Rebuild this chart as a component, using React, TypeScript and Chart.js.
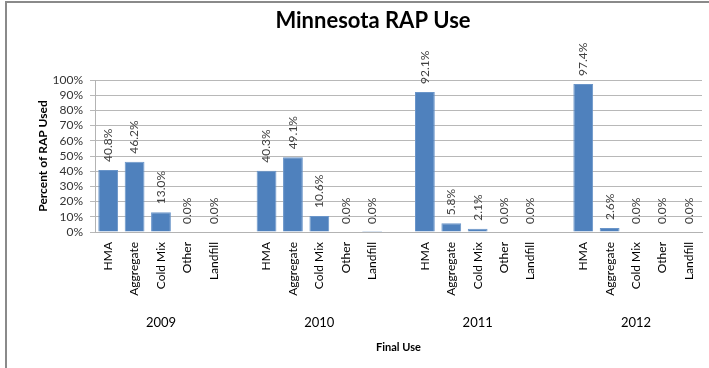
import React, { useEffect, useRef } from "react";
import { Chart, registerables } from "chart.js";

Chart.register(...registerables);

const TITLE = "Minnesota RAP Use";
const Y_TITLE = "Percent of RAP Used";
const X_TITLE = "Final Use";
const YEARS = ["2009", "2010", "2011", "2012"];
const USES = ["HMA", "Aggregate", "Cold Mix", "Other", "Landfill"];
const VALUES_2009 = [40.8, 46.2, 13.0, 0.0, 0.0];
const VALUES_2010 = [40.3, 49.1, 10.6, 0.0, 0.04];
const VALUES_2011 = [92.1, 5.8, 2.1, 0.0, 0.0];
const VALUES_2012 = [97.4, 2.6, 0.0, 0.0, 0.0];

const FONT = "Lato, 'Liberation Sans', sans-serif";

export default function App() {
  const ref = useRef<HTMLCanvasElement>(null);

  useEffect(() => {
    const groups = [VALUES_2009, VALUES_2010, VALUES_2011, VALUES_2012];
    const labels: string[] = [];
    const data: (number | null)[] = [];
    const yearOfIndex: number[] = [];
    groups.forEach((g, gi) => {
      if (gi > 0) {
        labels.push("");
        data.push(null);
        yearOfIndex.push(-1);
      }
      g.forEach((v, i) => {
        labels.push(USES[i]);
        data.push(v);
        yearOfIndex.push(gi);
      });
    });

    const decor = {
      id: "decor",
      beforeDraw(chart: any) {
        const ctx = chart.ctx;
        ctx.save();
        ctx.strokeStyle = "#8a8a8a";
        ctx.lineWidth = 2;
        ctx.beginPath();
        ctx.moveTo(6, 368);
        ctx.lineTo(6, 2);
        ctx.lineTo(709, 2);
        ctx.stroke();
        ctx.restore();
      },
      afterDraw(chart: any) {
        const ctx = chart.ctx;
        const xs = chart.scales.x;
        const ys = chart.scales.y;
        const area = chart.chartArea;
        ctx.save();
        // Title
        ctx.fillStyle = "#000";
        ctx.font = `bold 22px ${FONT}`;
        ctx.textAlign = "center";
        ctx.textBaseline = "middle";
        ctx.fillText(TITLE, 373, 21);
        // Y title
        ctx.save();
        ctx.translate(43, (area.top + area.bottom) / 2);
        ctx.rotate(-Math.PI / 2);
        ctx.font = `bold 12px ${FONT}`;
        ctx.fillText(Y_TITLE, 0, 0);
        ctx.restore();
        // data labels + category labels
        data.forEach((v, i) => {
          if (v === null) return;
          const x = xs.getPixelForValue(i);
          const yTop = ys.getPixelForValue(v);
          ctx.save();
          ctx.translate(x, yTop - 8);
          ctx.rotate(-Math.PI / 2);
          ctx.font = `12px ${FONT}`;
          ctx.fillStyle = "#404040";
          ctx.textAlign = "left";
          ctx.textBaseline = "middle";
          ctx.fillText(v.toFixed(1) + "%", 0, 0);
          ctx.restore();

          ctx.save();
          ctx.translate(x, area.bottom + 10);
          ctx.rotate(-Math.PI / 2);
          ctx.font = `12px ${FONT}`;
          ctx.fillStyle = "#000";
          ctx.textAlign = "right";
          ctx.textBaseline = "middle";
          ctx.fillText(labels[i], 0, 0);
          ctx.restore();
        });
        // year labels
        ctx.font = `13px ${FONT}`;
        ctx.fillStyle = "#000";
        ctx.textAlign = "center";
        ctx.textBaseline = "middle";
        YEARS.forEach((yr, gi) => {
          const idx = yearOfIndex.indexOf(gi);
          const x = (xs.getPixelForValue(idx) + xs.getPixelForValue(idx + 4)) / 2;
          ctx.fillText(yr, x, 323);
        });
        ctx.font = `bold 11px ${FONT}`;
        ctx.fillText(X_TITLE, (area.left + area.right) / 2, 347);
        ctx.restore();
      },
    };

    const chart = new Chart(ref.current!, {
      type: "bar",
      data: {
        labels,
        datasets: [
          {
            data,
            backgroundColor: "#4F81BD",
            borderColor: "#6a95c9",
            borderWidth: 1,
            categoryPercentage: 1,
            barPercentage: 0.75,
          },
        ],
      },
      plugins: [decor],
      options: {
        responsive: false,
        animation: false,
        layout: { padding: { top: 80, right: 7, left: 0, bottom: 0 } },
        plugins: { legend: { display: false }, tooltip: { enabled: false }, title: { display: false } },
        scales: {
          x: {
            grid: { display: false },
            border: { display: true, color: "#b3b3b3" },
            ticks: { display: false },
            afterFit(scale: any) {
              scale.height = 136;
            },
          },
          y: {
            min: 0,
            max: 100,
            grid: { color: "#b8b8b8", tickLength: 5, drawTicks: true },
            border: { display: true, color: "#b3b3b3" },
            ticks: {
              stepSize: 10,
              autoSkip: false,
              padding: 7,
              color: "#333",
              font: { family: FONT, size: 12 },
              callback: (v: any) => v + "%",
            },
            afterFit(scale: any) {
              scale.width = 95;
            },
          },
        },
      },
    });
    return () => chart.destroy();
  }, []);

  return (
    <div style={{ position: "fixed", left: 0, top: 0, width: 709, height: 368, background: "#fff" }}>
      <canvas ref={ref} width={709} height={368} style={{ width: 709, height: 368, display: "block" }} />
    </div>
  );
}
